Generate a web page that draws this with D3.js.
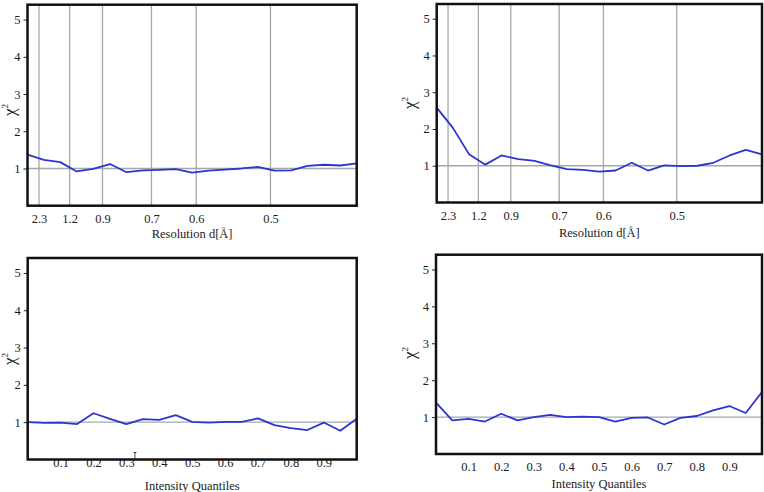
<!DOCTYPE html>
<html>
<head>
<meta charset="utf-8">
<script src="https://cdn.jsdelivr.net/npm/d3@7"></script>
<style>
  html, body { margin: 0; padding: 0; background: #fff; }
  svg { display: block; }
  svg text { font-family: "Liberation Serif", "DejaVu Serif", serif; fill: #1a1a1a; }
</style>
</head>
<body>
<svg id="chart" width="764" height="492"></svg>
<script>
// ---------- data ----------
// top panels: x is 1/d^2 (resolution shells), tick labels are d in Å
const resolutionTicks = [2.3, 1.2, 0.9, 0.7, 0.6, 0.5];
const invResSq = [0.00, 0.27, 0.54, 0.81, 1.08, 1.36, 1.63, 1.90, 2.17, 2.44, 2.71,
                  2.98, 3.25, 3.52, 3.79, 4.07, 4.34, 4.61, 4.88, 5.15, 5.42];
const chiResA = [1.37, 1.23, 1.17, 0.92, 0.99, 1.12, 0.90, 0.95, 0.965, 0.98, 0.89,
                 0.94, 0.97, 1.00, 1.04, 0.94, 0.95, 1.07, 1.10, 1.08, 1.14];
const chiResB = [2.58, 2.03, 1.31, 1.03, 1.28, 1.18, 1.13, 1.01, 0.91, 0.89, 0.84,
                 0.87, 1.08, 0.87, 1.01, 0.99, 1.00, 1.08, 1.28, 1.43, 1.31];
// bottom panels: intensity quantiles
const quantileTicks = [0.1, 0.2, 0.3, 0.4, 0.5, 0.6, 0.7, 0.8, 0.9];
const quantiles = [0.00, 0.05, 0.10, 0.15, 0.20, 0.25, 0.30, 0.35, 0.40, 0.45, 0.50,
                   0.55, 0.60, 0.65, 0.70, 0.75, 0.80, 0.85, 0.90, 0.95, 1.00];
const chiIntA = [1.00, 0.98, 0.99, 0.95, 1.24, 1.09, 0.95, 1.08, 1.06, 1.19, 1.01,
                 0.99, 1.01, 1.01, 1.10, 0.92, 0.84, 0.79, 0.99, 0.77, 1.09];
const chiIntB = [1.39, 0.91, 0.95, 0.88, 1.09, 0.91, 1.00, 1.06, 1.00, 1.01, 1.00,
                 0.88, 0.98, 0.99, 0.80, 0.98, 1.03, 1.18, 1.30, 1.11, 1.68];
const yTicks = [1, 2, 3, 4, 5];
const refLevel = 1;

// ---------- layout ----------
const panels = [
  { left: 27.5, top: 4.7, right: 356.7, bottom: 205.7, kind: "res", xs: invResSq, ys: chiResA,
    tickBase: 222.5, labelBase: 237.5, ylabX: 15, ylabY: 110 },
  { left: 436.7, top: 4, right: 762, bottom: 202.5, kind: "res", xs: invResSq, ys: chiResB,
    tickBase: 219.5, labelBase: 236.5, ylabX: 415, ylabY: 103 },
  { left: 27.7, top: 258, right: 356.7, bottom: 459.5, kind: "int", xs: quantiles, ys: chiIntA,
    tickBase: 466.5, labelBase: 489.5, ylabX: 15, ylabY: 359, cursor: 0.326 },
  { left: 436, top: 254.7, right: 762, bottom: 454, kind: "int", xs: quantiles, ys: chiIntB,
    tickBase: 471, labelBase: 487.5, ylabX: 415, ylabY: 353 }
];

const svg = d3.select("#chart");

panels.forEach(p => {
  const x = p.kind === "res"
    ? d3.scaleLinear().domain([0, 5.42]).range([p.left, p.right])
    : d3.scaleLinear().domain([0, 1]).range([p.left, p.right]);
  const y = d3.scaleLinear().domain([0, 5.4]).range([p.bottom, p.top]);
  const g = svg.append("g");

  // vertical gridlines (top panels)
  if (p.kind === "res") {
    g.selectAll("line.grid").data(resolutionTicks).join("line")
      .attr("x1", d => x(1 / (d * d))).attr("x2", d => x(1 / (d * d)))
      .attr("y1", p.top).attr("y2", p.bottom)
      .attr("stroke", "#a4a8ab").attr("stroke-width", 1.3);
  }
  // reference line at chi^2 = 1
  g.append("line")
    .attr("x1", p.left).attr("x2", p.right)
    .attr("y1", y(refLevel)).attr("y2", y(refLevel))
    .attr("stroke", "#a4a8ab").attr("stroke-width", 1.3);

  // series
  const line = d3.line().x((d, i) => x(p.xs[i])).y(d => y(d));
  g.append("path").datum(p.ys)
    .attr("d", line)
    .attr("fill", "none").attr("stroke", "#2b35d0")
    .attr("stroke-width", 1.8).attr("stroke-linejoin", "round");

  // y axis
  const yAxis = d3.axisLeft(y).tickValues(yTicks).tickSize(4).tickPadding(3).tickFormat(d3.format("d"));
  const ya = g.append("g").attr("transform", `translate(${p.left},0)`).call(yAxis);
  ya.attr("font-family", null).attr("font-size", null);
  ya.select(".domain").remove();
  ya.selectAll("line").attr("stroke", "#222");
  ya.selectAll("text").style("font-size", "12.5px").style("font-family", "'Liberation Serif', serif");

  // x axis labels (no tick marks)
  const xAxis = (p.kind === "res")
    ? d3.axisBottom(x)
        .tickValues(resolutionTicks.map(d => 1 / (d * d)))
        .tickFormat((d, i) => d3.format(".1f")(resolutionTicks[i]))
    : d3.axisBottom(x).tickValues(quantileTicks).tickFormat(d3.format(".1f"));
  xAxis.tickSize(0).tickPadding(0);
  const xa = g.append("g").attr("transform", `translate(0,${p.tickBase})`).call(xAxis);
  xa.attr("font-family", null).attr("font-size", null);
  xa.select(".domain").remove();
  xa.selectAll("text").attr("dy", 0).attr("y", 0)
    .style("font-size", "12.5px").style("font-family", "'Liberation Serif', serif");

  // stray cursor mark in reference
  if (p.cursor !== undefined) {
    const cx = x(p.cursor);
    g.append("path")
      .attr("d", `M${cx},${p.bottom - 7}V${p.bottom} M${cx - 1.5},${p.bottom - 7}H${cx + 1.5}`)
      .attr("stroke", "#333").attr("stroke-width", 0.9).attr("fill", "none");
  }

  // frame
  g.append("rect")
    .attr("x", p.left).attr("y", p.top)
    .attr("width", p.right - p.left).attr("height", p.bottom - p.top)
    .attr("fill", "none").attr("stroke", "#111").attr("stroke-width", 2.5);

  // x label
  g.append("text")
    .attr("x", (p.left + p.right) / 2).attr("y", p.labelBase)
    .attr("text-anchor", "middle").style("font-size", "12.5px")
    .text(p.kind === "res" ? "Resolution d[Å]" : "Intensity Quantiles");

  // y label chi^2
  const yl = g.append("text")
    .attr("transform", `translate(${p.ylabX},${p.ylabY}) rotate(-90)`)
    .attr("text-anchor", "middle").style("font-size", "17px");
  yl.append("tspan").text("χ");
  yl.append("tspan").style("font-size", "9px").attr("dy", -7).text("2");
});
</script>
</body>
</html>
